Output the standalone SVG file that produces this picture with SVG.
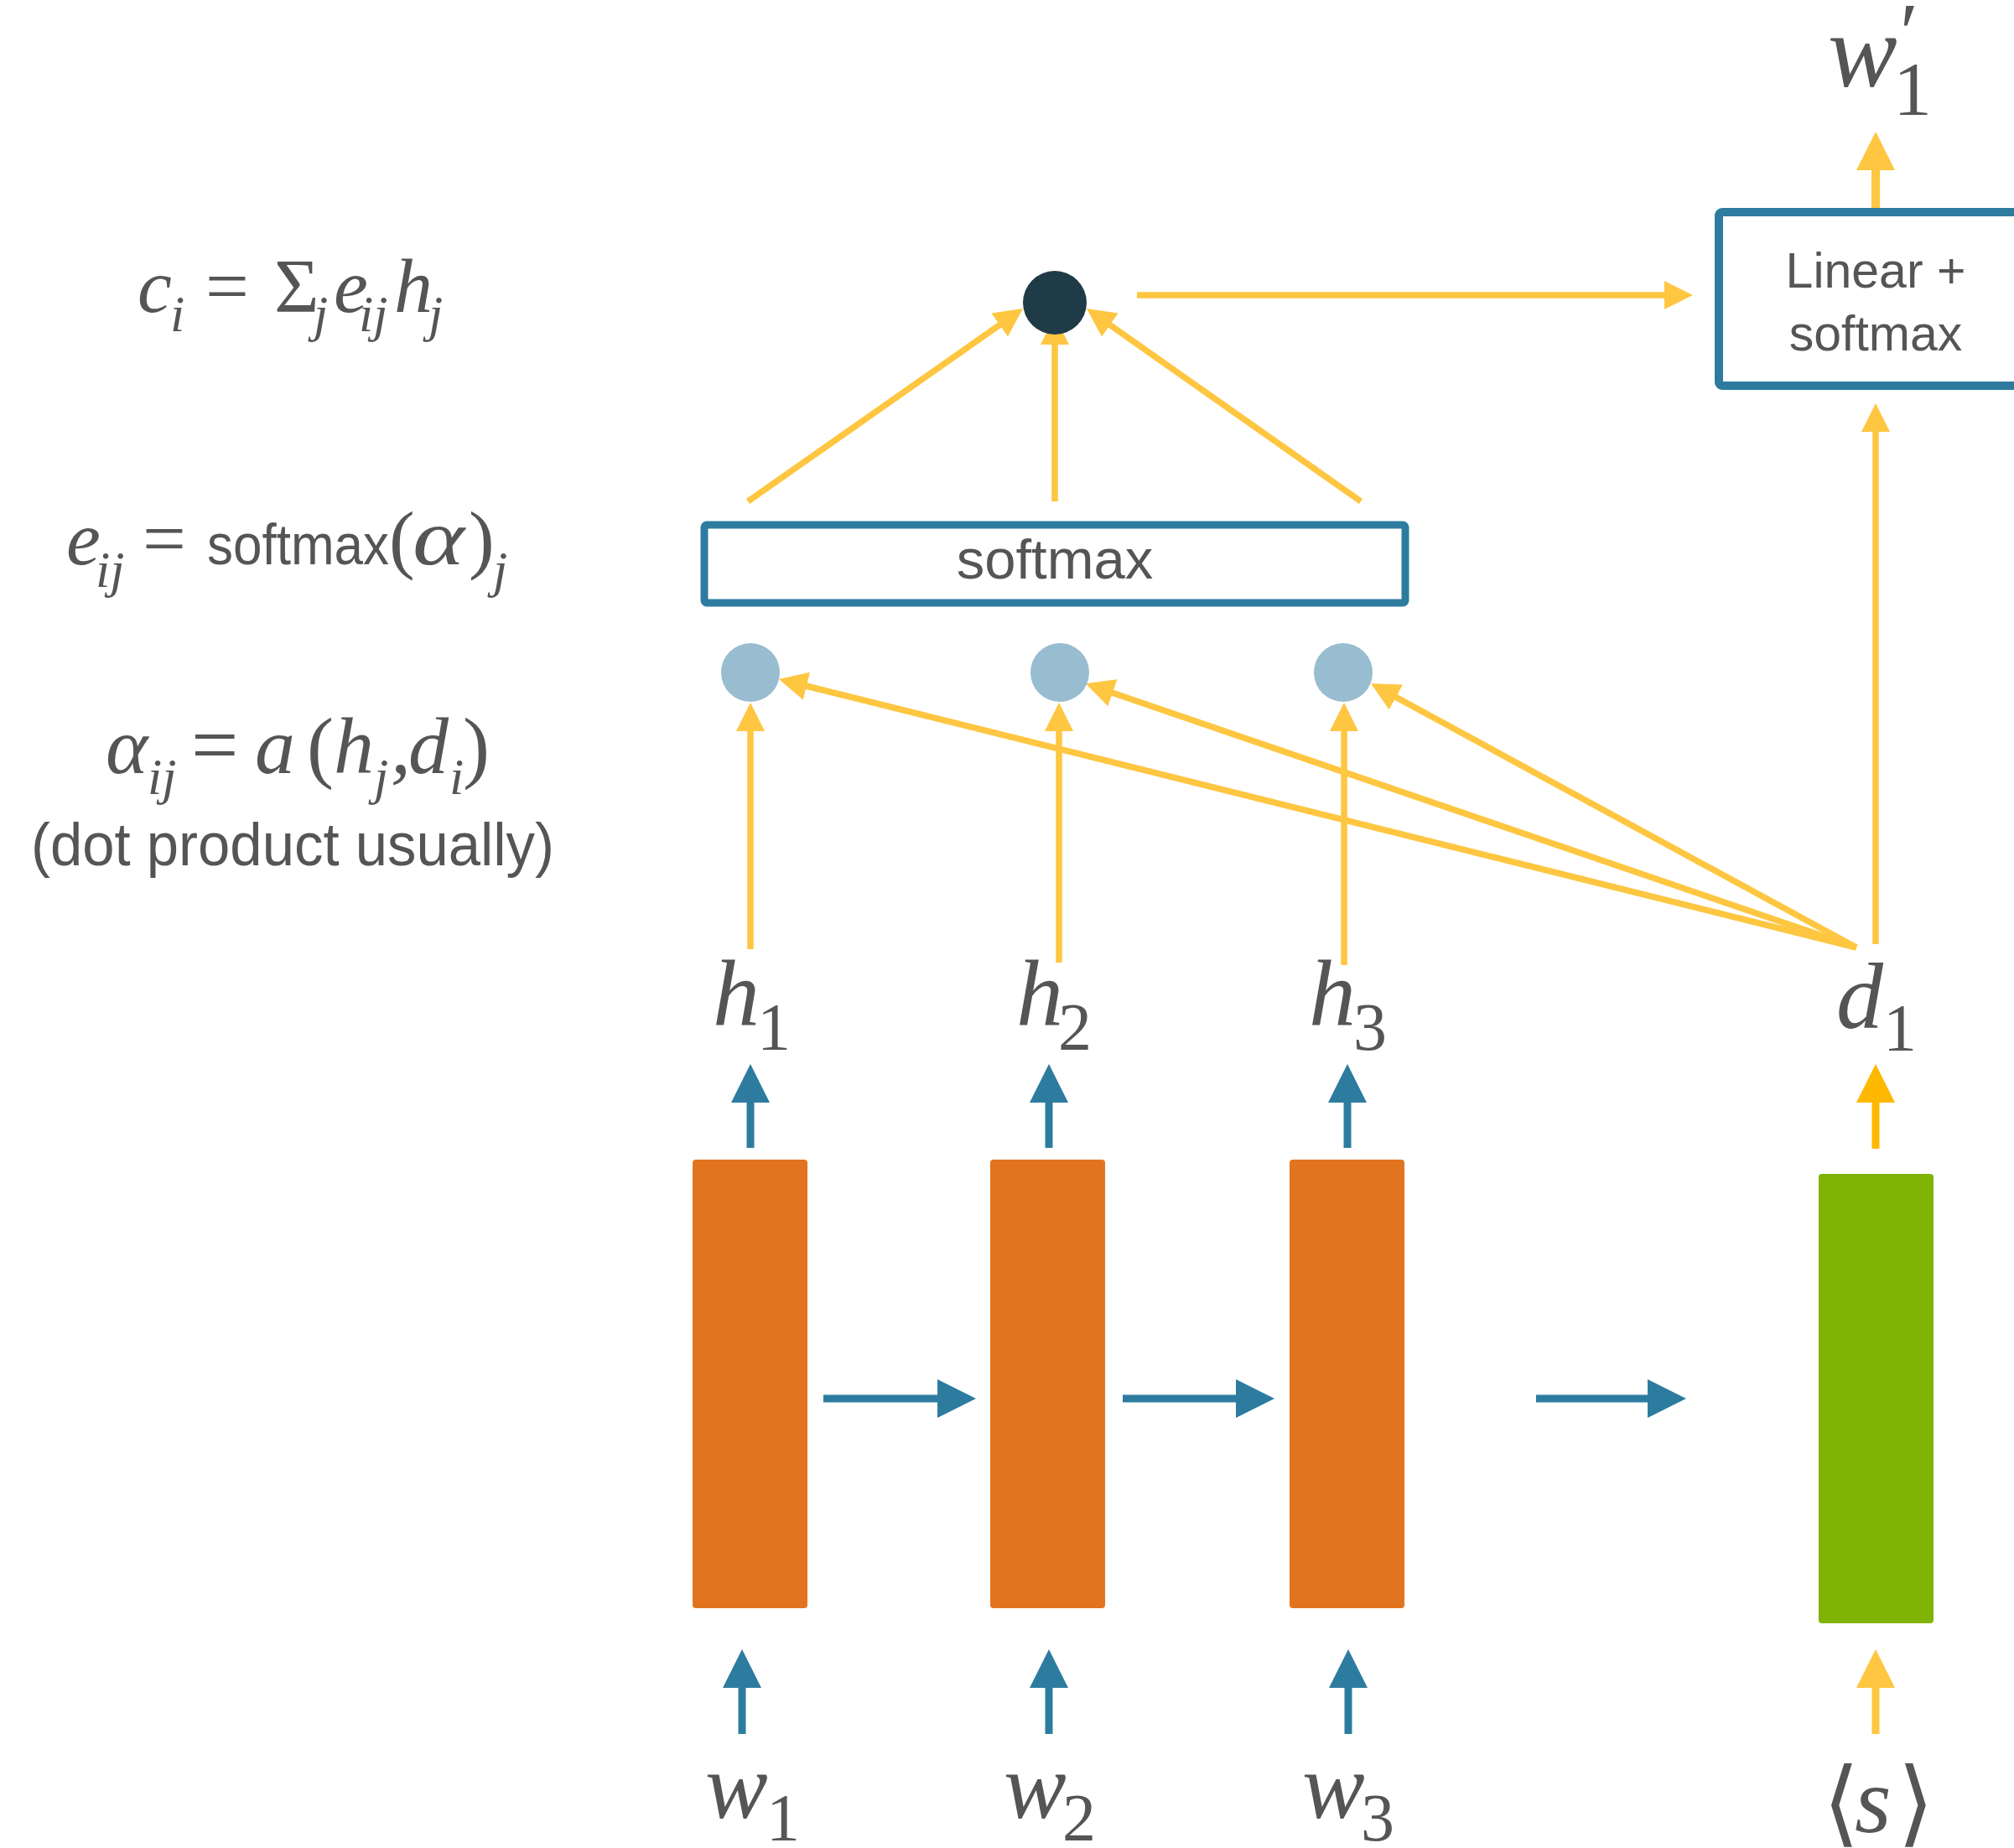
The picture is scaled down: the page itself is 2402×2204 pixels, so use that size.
<svg xmlns="http://www.w3.org/2000/svg" width="2402" height="2204" viewBox="0 0 2402 2204">
<style>
.m{font-family:"Liberation Serif","DejaVu Serif",serif;font-style:italic;fill:#555555}
.u{font-family:"Liberation Serif","DejaVu Serif",serif;font-style:normal;fill:#555555}
.s{font-family:"Liberation Sans",Arial,sans-serif;font-style:normal;fill:#555555}
.yl{stroke:#FEC641;stroke-width:7.5;fill:none}
.bl{stroke:#2D7CA0;stroke-width:9;fill:none}
.ol{stroke:#FFB800;stroke-width:9;fill:none}
.bar{fill:#E27420}
.box{fill:#FFFFFF;stroke:#2D7CA0;stroke-width:9}
</style>
<defs>
<marker id="bb" markerUnits="userSpaceOnUse" markerWidth="46" markerHeight="46" viewBox="0 0 46 46" refX="1" refY="23" orient="auto"><path d="M0,0 L46,23 L0,46 Z" fill="#2D7CA0"/></marker>
<marker id="by" markerUnits="userSpaceOnUse" markerWidth="46" markerHeight="46" viewBox="0 0 46 46" refX="1" refY="23" orient="auto"><path d="M0,0 L46,23 L0,46 Z" fill="#FEC641"/></marker>
<marker id="bo" markerUnits="userSpaceOnUse" markerWidth="46" markerHeight="46" viewBox="0 0 46 46" refX="1" refY="23" orient="auto"><path d="M0,0 L46,23 L0,46 Z" fill="#FFB800"/></marker>
<marker id="sy" markerUnits="userSpaceOnUse" markerWidth="34" markerHeight="34" viewBox="0 0 34 34" refX="1" refY="17" orient="auto"><path d="M0,0 L34,17 L0,34 Z" fill="#FEC641"/></marker>
</defs>
<rect width="2402" height="2204" fill="#FFFFFF"/>

<g id="connectors">
<path class="bl" d="M885,2068 V2012" marker-end="url(#bb)"/>
<path class="bl" d="M1251,2068 V2012" marker-end="url(#bb)"/>
<path class="bl" d="M1608,2068 V2012" marker-end="url(#bb)"/>
<path class="yl" style="stroke-width:9" d="M2237,2068 V2012" marker-end="url(#by)"/>
<path class="bl" d="M982,1668 H1119" marker-end="url(#bb)"/>
<path class="bl" d="M1339,1668 H1475" marker-end="url(#bb)"/>
<path class="bl" d="M1832,1668 H1966" marker-end="url(#bb)"/>
<path class="bl" d="M895,1369 V1314" marker-end="url(#bb)"/>
<path class="bl" d="M1251,1369 V1314" marker-end="url(#bb)"/>
<path class="bl" d="M1607,1369 V1314" marker-end="url(#bb)"/>
<path class="ol" d="M2237,1370 V1314" marker-end="url(#bo)"/>
<path class="yl" d="M895,1132 V871" marker-end="url(#sy)"/>
<path class="yl" d="M1263,1148 V871" marker-end="url(#sy)"/>
<path class="yl" d="M1603,1151 V871" marker-end="url(#sy)"/>
<path class="yl" d="M2214,1130 L961,818" marker-end="url(#sy)"/>
<path class="yl" d="M2214,1130 L1326,826" marker-end="url(#sy)"/>
<path class="yl" d="M2214,1130 L1664,831" marker-end="url(#sy)"/>
<path class="yl" d="M892,598 L1193,387" marker-end="url(#sy)"/>
<path class="yl" d="M1258,598 V410" marker-end="url(#sy)"/>
<path class="yl" d="M1623,598 L1323,387" marker-end="url(#sy)"/>
<path class="yl" d="M1356,352 H1986" marker-end="url(#sy)"/>
<path class="yl" d="M2237,1126 V514" marker-end="url(#sy)"/>
<path class="yl" style="stroke-width:10" d="M2237,248 V202" marker-end="url(#by)"/>
</g>

<g id="cell-1"><rect class="bar" x="826" y="1383" width="137" height="535" rx="4"/></g>
<g id="cell-2"><rect class="bar" x="1181" y="1383" width="137" height="535" rx="4"/></g>
<g id="cell-3"><rect class="bar" x="1538" y="1383" width="137" height="535" rx="4"/></g>
<g id="decoder-cell"><rect x="2169" y="1400" width="137" height="536" rx="4" fill="#80B404"/></g>

<g id="score-1"><circle cx="895" cy="802" r="35" fill="#98BCD0"/></g>
<g id="score-2"><circle cx="1264" cy="802" r="35" fill="#98BCD0"/></g>
<g id="score-3"><circle cx="1602" cy="802" r="35" fill="#98BCD0"/></g>

<g id="softmax-box">
<rect class="box" x="840" y="626" width="836" height="93" rx="3"/>
<text class="s" x="1258" y="690" font-size="67" text-anchor="middle">softmax</text>
</g>

<g id="context"><circle cx="1258" cy="361" r="38" fill="#1F3B47"/></g>

<g id="linear-softmax">
<rect class="box" style="stroke-width:10" x="2050" y="253" width="420" height="207" rx="4"/>
<text class="s" x="2237" y="343" font-size="59" text-anchor="middle">Linear +</text>
<text class="s" x="2237" y="418" font-size="59" text-anchor="middle">softmax</text>
</g>

<g id="label-w1out"><text class="m" font-size="124"><tspan x="2180" y="103">w</tspan><tspan class="u" x="2266" y="72" font-size="100">′</tspan><tspan class="u" x="2258" y="137" font-size="92">1</tspan></text></g>

<g id="label-h1"><text class="m" font-size="112"><tspan x="850" y="1223">h</tspan><tspan class="u" x="903" y="1252" font-size="80">1</tspan></text></g>
<g id="label-h2"><text class="m" font-size="112"><tspan x="1212" y="1223">h</tspan><tspan class="u" x="1262" y="1252" font-size="80">2</tspan></text></g>
<g id="label-h3"><text class="m" font-size="112"><tspan x="1561" y="1223">h</tspan><tspan class="u" x="1614" y="1252" font-size="80">3</tspan></text></g>
<g id="label-d1"><text class="m" font-size="112"><tspan x="2190" y="1226">d</tspan><tspan class="u" x="2246" y="1253" font-size="80">1</tspan></text></g>

<g id="label-w1"><text class="m" font-size="112"><tspan x="841" y="2168">w</tspan><tspan class="u" x="914" y="2195" font-size="80">1</tspan></text></g>
<g id="label-w2"><text class="m" font-size="112"><tspan x="1197" y="2168">w</tspan><tspan class="u" x="1267" y="2195" font-size="80">2</tspan></text></g>
<g id="label-w3"><text class="m" font-size="112"><tspan x="1553" y="2168">w</tspan><tspan class="u" x="1623" y="2195" font-size="80">3</tspan></text></g>
<g id="label-s"><text class="m" font-size="112"><tspan class="u" x="2174" y="2188">⟨</tspan><tspan x="2212" y="2185">s</tspan><tspan class="u" x="2263" y="2188">⟩</tspan></text></g>

<g id="eq-context"><text class="m" font-size="92"><tspan x="164" y="372">c</tspan><tspan x="203" y="395" font-size="62">i</tspan><tspan class="u" x="245" y="372">=</tspan><tspan class="u" x="327" y="372">Σ</tspan><tspan x="374" y="395" font-size="62">j</tspan><tspan x="398" y="372">e</tspan><tspan x="428" y="395" font-size="62">ij</tspan><tspan x="470" y="372">h</tspan><tspan x="511" y="395" font-size="62">j</tspan></text></g>

<g id="eq-softmax"><text class="m" font-size="92"><tspan x="79" y="673">e</tspan><tspan x="114" y="700" font-size="62">ij</tspan><tspan class="u" x="170" y="673">=</tspan><tspan class="s" x="247" y="673" font-size="68" textLength="217" lengthAdjust="spacingAndGlyphs">softmax</tspan><tspan class="u" x="464" y="673">(</tspan><tspan x="492" y="673" font-size="96" textLength="62" lengthAdjust="spacingAndGlyphs">α</tspan><tspan class="u" x="559" y="673">)</tspan><tspan x="588" y="700" font-size="62">j</tspan></text></g>

<g id="eq-score"><text class="m" font-size="96"><tspan x="126" y="922">α</tspan><tspan x="176" y="947" font-size="62">ij</tspan><tspan class="u" x="228" y="922" font-size="100">=</tspan><tspan x="304" y="922">a</tspan><tspan class="u" x="366" y="922">(</tspan><tspan x="398" y="922">h</tspan><tspan x="446" y="947" font-size="62">j</tspan><tspan x="466" y="922">,</tspan><tspan x="487" y="922">d</tspan><tspan x="536" y="947" font-size="62">i</tspan><tspan class="u" x="552" y="922">)</tspan></text>
<text class="s" x="37" y="1032" font-size="73" textLength="624" lengthAdjust="spacingAndGlyphs">(dot product usually)</text></g>
</svg>
